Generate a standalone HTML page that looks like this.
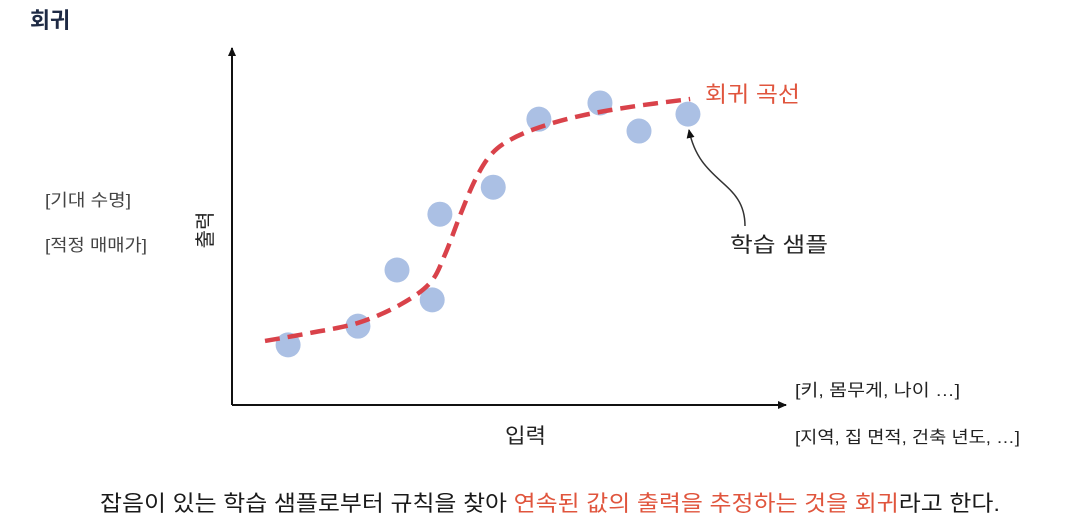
<!DOCTYPE html>
<html><head><meta charset="utf-8"><style>
html,body{margin:0;padding:0;background:#fff;}
body{width:1067px;height:529px;overflow:hidden;position:relative;font-family:"Liberation Sans","Noto Sans CJK KR",sans-serif;}
svg{position:absolute;left:0;top:0;}
</style></head><body>
<svg width="1067" height="529" viewBox="0 0 1067 529" font-family="Liberation Sans, Noto Sans CJK KR, sans-serif">
<defs>
<marker id="ah" markerWidth="10" markerHeight="10" refX="8" refY="5" orient="auto" markerUnits="userSpaceOnUse"><path d="M0,1 L9,5 L0,9 z" fill="#111"/></marker>
</defs>
<text x="30" y="28" font-size="22" font-weight="bold" fill="#1e2a44" textLength="40" lengthAdjust="spacingAndGlyphs">회귀</text>
<line x1="232" y1="405" x2="232" y2="48" stroke="#111" stroke-width="2" marker-end="url(#ah)"/>
<line x1="232" y1="405" x2="786" y2="405" stroke="#111" stroke-width="2" marker-end="url(#ah)"/>
<text x="45" y="206" font-size="17" fill="#444" textLength="86" lengthAdjust="spacingAndGlyphs">[기대 수명]</text>
<text x="45" y="251" font-size="17" fill="#444" textLength="102" lengthAdjust="spacingAndGlyphs">[적정 매매가]</text>
<text transform="translate(212,230) rotate(-90)" text-anchor="middle" font-size="20" fill="#222">출력</text>
<text x="505" y="443" font-size="21" fill="#222" textLength="41" lengthAdjust="spacingAndGlyphs">입력</text>
<text x="795" y="396" font-size="17" fill="#222" textLength="165" lengthAdjust="spacingAndGlyphs">[키, 몸무게, 나이 …]</text>
<text x="795" y="443" font-size="17" fill="#222" textLength="225" lengthAdjust="spacingAndGlyphs">[지역, 집 면적, 건축 년도, …]</text>
<g id="points"></g>
<path id="curve" fill="none" stroke="#d9424a" stroke-width="4.5" stroke-dasharray="15,8"/>
<text x="705" y="102" font-size="22" fill="#e0553d" textLength="95" lengthAdjust="spacingAndGlyphs">회귀 곡선</text>
<path d="M745,226 C745,180 700,185 689,130" fill="none" stroke="#333" stroke-width="1.5" marker-end="url(#ah)"/>
<text x="730" y="252" font-size="21" fill="#222" textLength="98" lengthAdjust="spacingAndGlyphs">학습 샘플</text>
<text x="100" y="511" font-size="22" fill="#1a1a1a" textLength="900" lengthAdjust="spacingAndGlyphs">잡음이 있는 학습 샘플로부터 규칙을 찾아 <tspan fill="#e0553d">연속된 값의 출력을 추정하는 것을 회귀</tspan>라고 한다.</text>
</svg>
<script>
const sampleX=[10.2,22.9,30,36.4,37.8,47.5,55.8,66.9,74,82.9];
const sampleY=[16.7,21.9,37.5,29.2,53,60.5,79.4,83.9,76.1,80.8];
const curveX=[6,14.2,22.9,30.5,36,38.7,41.5,44.2,47,50.5,56,63.3,72.4,83.3];
const curveY=[17.8,20,22.8,27.8,33.9,41.7,52.8,62.5,69.4,73.6,77.2,80.3,82.8,85];
function xs(v){return 232+v*5.5;}
function ys(v){return 405-v*3.6;}
const NS='http://www.w3.org/2000/svg';
const g=document.getElementById('points');
for(let i=0;i<sampleX.length;i++){
  const c=document.createElementNS(NS,'circle');
  c.setAttribute('cx',xs(sampleX[i]));c.setAttribute('cy',ys(sampleY[i]));c.setAttribute('r',12.5);
  c.setAttribute('fill','#abc0e4');
  
  
  g.appendChild(c);
}
const P=curveX.map((v,i)=>[xs(v),ys(curveY[i])]);
let d='M'+P[0][0]+','+P[0][1];
for(let i=0;i<P.length-1;i++){
  const p0=P[Math.max(i-1,0)],p1=P[i],p2=P[i+1],p3=P[Math.min(i+2,P.length-1)];
  const c1=[p1[0]+(p2[0]-p0[0])/6,p1[1]+(p2[1]-p0[1])/6];
  const c2=[p2[0]-(p3[0]-p1[0])/6,p2[1]-(p3[1]-p1[1])/6];
  d+=' C'+c1[0]+','+c1[1]+' '+c2[0]+','+c2[1]+' '+p2[0]+','+p2[1];
}
document.getElementById('curve').setAttribute('d',d);
</script>
</body></html>
